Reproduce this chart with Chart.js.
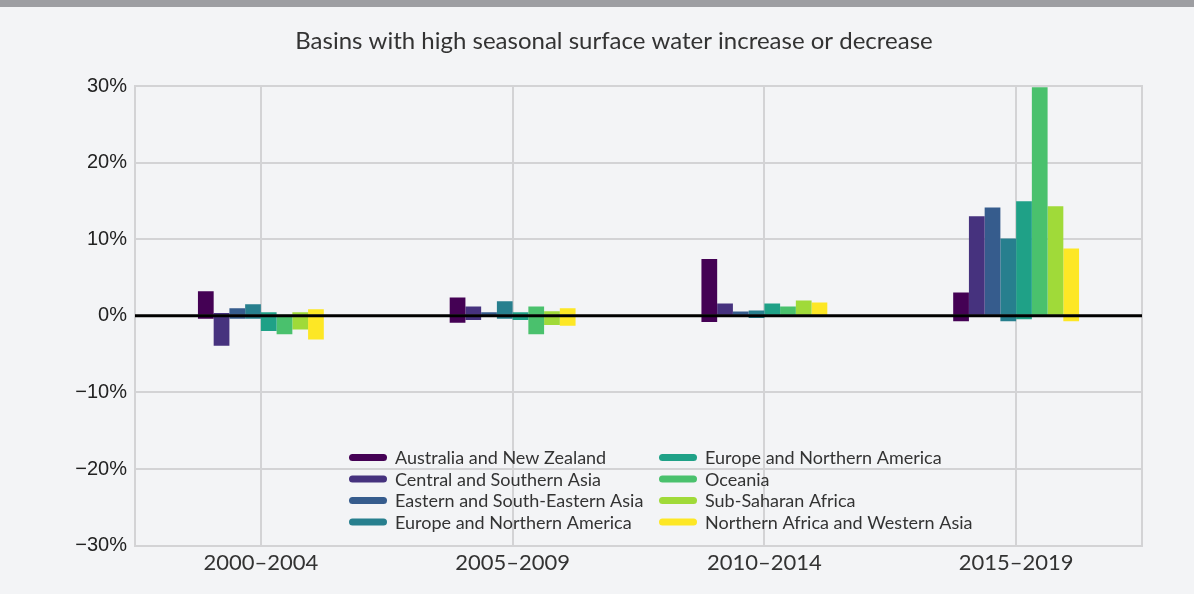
<!DOCTYPE html>
<html><head><meta charset="utf-8">
<script src="https://cdn.jsdelivr.net/npm/chart.js@4.4.1/dist/chart.umd.min.js"></script>
<style>
html,body{margin:0;padding:0;background:#f3f4f6;overflow:hidden;}
#band{position:absolute;left:0;top:0;width:1194px;height:7px;background:#9d9ea2;}
#wrap{position:absolute;left:0;top:0;width:1194px;height:594px;}
</style></head><body>
<div id="wrap"><canvas id="c" width="1194" height="594"></canvas></div>
<div id="band"></div>
<script>
const chartTitle = 'Basins with high seasonal surface water increase or decrease';
const periods = ['2000–2004', '2005–2009', '2010–2014', '2015–2019'];
const seriesNames = [
  'Australia and New Zealand',
  'Central and Southern Asia',
  'Eastern and South-Eastern Asia',
  'Europe and Northern America',
  'Europe and Northern America',
  'Oceania',
  'Sub-Saharan Africa',
  'Northern Africa and Western Asia'
];
const seriesColors = ['#440154', '#46327e', '#365c8d', '#277f8e', '#1fa187', '#4ac16d', '#a0da39', '#fde725'];
const yTickValues = [-30, -20, -10, 0, 10, 20, 30];

// Share of basins with high increase (positive) / decrease (negative), % by period
const australiaNzUp      = [3.2, 2.4, 7.4, 3.05];
const australiaNzDown    = [-0.4, -0.9, -0.8, -0.7];
const centralSouthUp     = [0.35, 1.2, 1.6, 13.0];
const centralSouthDown   = [-3.9, -0.55, -0.1, -0.1];
const eastSouthEastUp    = [1.0, 0.45, 0.55, 14.15];
const eastSouthEastDown  = [-0.4, -0.1, -0.1, -0.1];
const europeNa1Up        = [1.5, 1.9, 0.7, 10.1];
const europeNa1Down      = [-0.4, -0.4, -0.3, -0.7];
const europeNa2Up        = [0.45, 0.45, 1.6, 14.95];
const europeNa2Down      = [-2.0, -0.55, -0.1, -0.45];
const oceaniaUp          = [0.1, 1.2, 1.2, 29.85];
const oceaniaDown        = [-2.4, -2.4, -0.1, -0.1];
const subSaharanUp       = [0.45, 0.6, 2.0, 14.3];
const subSaharanDown     = [-1.8, -1.2, -0.1, -0.1];
const northAfricaWAUp    = [0.85, 1.0, 1.75, 8.8];
const northAfricaWADown  = [-3.1, -1.3, -0.1, -0.7];

const upSeries = [australiaNzUp, centralSouthUp, eastSouthEastUp, europeNa1Up, europeNa2Up, oceaniaUp, subSaharanUp, northAfricaWAUp];
const downSeries = [australiaNzDown, centralSouthDown, eastSouthEastDown, europeNa1Down, europeNa2Down, oceaniaDown, subSaharanDown, northAfricaWADown];

const datasets = [];
seriesNames.forEach((name, i) => {
  datasets.push({ label: name, data: upSeries[i], backgroundColor: seriesColors[i], stack: 's' + i, borderWidth: 0 });
  datasets.push({ label: name, data: downSeries[i], backgroundColor: seriesColors[i], stack: 's' + i, borderWidth: 0 });
});

const gridColor = '#d3d3d5';

const framePlugin = {
  id: 'frame',
  afterDatasetsDraw(chart) {
    const { ctx, chartArea: a, scales } = chart;
    ctx.save();
    ctx.strokeStyle = gridColor;
    ctx.lineWidth = 2;
    ctx.beginPath();
    ctx.moveTo(a.right, a.top - 1);
    ctx.lineTo(a.right, a.bottom + 1);
    ctx.stroke();
    const y0 = scales.y.getPixelForValue(0);
    ctx.strokeStyle = '#000';
    ctx.lineWidth = 3;
    ctx.beginPath();
    ctx.moveTo(a.left, y0);
    ctx.lineTo(a.right, y0);
    ctx.stroke();
    ctx.restore();
  }
};

const titlePlugin = {
  id: 'centeredTitle',
  afterDraw(chart) {
    const { ctx } = chart;
    ctx.save();
    ctx.font = '24px Lato';
    ctx.fillStyle = '#333';
    ctx.textAlign = 'center';
    ctx.textBaseline = 'middle';
    ctx.fillText(chartTitle, 614, 41);
    ctx.restore();
  }
};

const legendPlugin = {
  id: 'customLegend',
  afterDraw(chart) {
    const { ctx, chartArea: a } = chart;
    const colX = [a.left + 214, a.left + 524];
    const textGap = 46;
    const rowY0 = a.bottom - 88;
    const rowH = 21.5;
    ctx.save();
    ctx.font = '18px Lato';
    ctx.textBaseline = 'middle';
    seriesNames.forEach((name, i) => {
      const col = Math.floor(i / 4), row = i % 4;
      const x = colX[col], y = rowY0 + row * rowH;
      ctx.strokeStyle = seriesColors[i];
      ctx.lineWidth = 7;
      ctx.lineCap = 'round';
      ctx.beginPath();
      ctx.moveTo(x + 3.5, y);
      ctx.lineTo(x + 34.5, y);
      ctx.stroke();
      ctx.fillStyle = '#333';
      ctx.fillText(name, x + textGap, y + 1);
    });
    ctx.restore();
  }
};

new Chart(document.getElementById('c'), {
  type: 'bar',
  data: { labels: periods, datasets },
  options: {
    responsive: false,
    animation: false,
    layout: { padding: { left: 0, right: 52, top: 86, bottom: 14 } },
    datasets: { bar: { categoryPercentage: 0.5, barPercentage: 1.0 } },
    plugins: {
      legend: { display: false },
      tooltip: { enabled: false },
      title: { display: false }
    },
    scales: {
      x: {
        stacked: true,
        grid: { offset: false, color: gridColor, lineWidth: 2, drawTicks: false },
        border: { display: true, color: gridColor, width: 2 },
        ticks: { color: '#333', font: { family: 'Lato', size: 22 }, padding: 4 }
      },
      y: {
        stacked: true,
        min: -30, max: 30,
        afterFit(scale) { scale.width = 135; },
        afterBuildTicks(scale) { scale.ticks = yTickValues.map(v => ({ value: v })); },
        grid: {
          color: ctx => (ctx.tick && ctx.tick.value === 0) ? 'rgba(0,0,0,0)' : gridColor,
          lineWidth: 2, drawTicks: false
        },
        border: { display: true, color: gridColor, width: 2 },
        ticks: {
          color: '#222',
          font: { family: 'Liberation Sans', size: 20 },
          padding: 8,
          callback: v => (v < 0 ? '\u2212' + Math.abs(v) : v) + '%'
        }
      }
    }
  },
  plugins: [framePlugin, legendPlugin, titlePlugin]
});
</script>
</body></html>
